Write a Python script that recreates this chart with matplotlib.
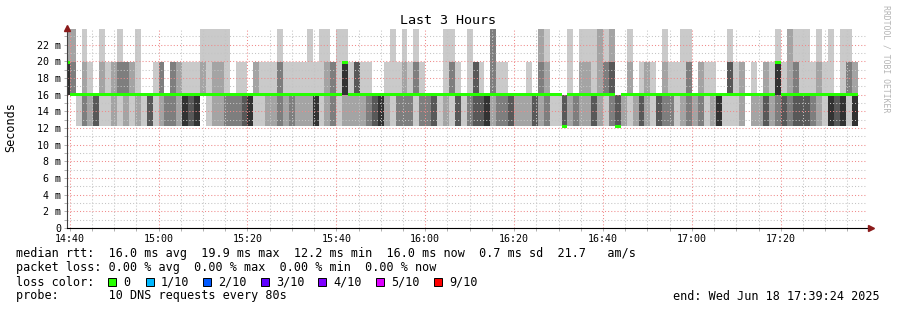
import numpy as np
import matplotlib
matplotlib.use("Agg")
import matplotlib.pyplot as plt
from matplotlib.patches import Rectangle

W, H = 897, 310
PINGS = 10
STEP = 80 / 60.0                      # minutes per rrd step
t_start = 14 * 60 + 39 + 24 / 60.0    # 14:39:24
t_end = 17 * 60 + 39 + 24 / 60.0      # 17:39:24
first_step = 14 * 60 + 40 - STEP      # partial step ending at 14:40

# the DNS answers cluster around these round trip times (ms)
levels = [12.2, 16.0, 19.9, 23.9]

# how many of the 10 pings of each step land near 12, 20 and 24 ms
# (the rest sit at 16 ms)
n12 = [0, 0, 1, 3, 2, 4, 1, 1, 2, 1, 2, 1, 2, 1, 4, 1,
       2, 3, 3, 2, 5, 4, 5, 0, 1, 2, 2, 3, 3, 3, 4,
       5, 1, 1, 2, 2, 3, 2, 3, 2, 2, 2, 5, 1, 2, 3,
       1, 2, 2, 2, 2, 3, 4, 5, 2, 1, 3, 3, 3, 1, 3,
       3, 4, 1, 2, 1, 4, 1, 3, 4, 4, 5, 2, 3, 3, 4,
       2, 2, 2, 4, 2, 3, 1, 1, 6, 2, 3, 2, 2, 4, 2,
       1, 3, 6, 2, 1, 2, 4, 2, 1, 4, 3, 3, 1, 2, 3,
       2, 3, 1, 2, 5, 1, 1, 1, 2, 0, 2, 2, 4, 2, 3,
       4, 3, 4, 4, 4, 3, 2, 1, 5, 4, 5, 1, 5]
n20 = [3, 1, 0, 1, 1, 0, 1, 1, 2, 2, 3, 2, 0, 0, 0, 1,
       3, 0, 3, 2, 1, 1, 1, 1, 0, 1, 1, 0, 0, 1, 1,
       0, 2, 1, 1, 1, 2, 1, 1, 1, 1, 0, 1, 0, 1, 3,
       0, 4, 1, 4, 1, 1, 0, 0, 1, 0, 1, 1, 1, 2, 1,
       0, 0, 0, 0, 2, 1, 0, 0, 4, 1, 0, 0, 1, 1, 0,
       0, 0, 1, 0, 1, 1, 0, 0, 0, 0, 0, 1, 1, 0, 0,
       2, 2, 0, 0, 1, 0, 1, 2, 1, 0, 1, 1, 1, 0, 2,
       0, 2, 1, 1, 0, 0, 3, 1, 2, 0, 1, 0, 2, 1, 4,
       1, 0, 2, 0, 0, 1, 1, 1, 0, 0, 0, 2, 2]
n24 = [2, 2, 0, 1, 0, 0, 1, 0, 0, 1, 0, 0, 1, 0, 0, 0,
       0, 0, 0, 0, 0, 0, 0, 1, 1, 1, 1, 1, 0, 0, 0,
       0, 0, 0, 0, 0, 1, 0, 0, 0, 0, 1, 0, 1, 1, 0,
       1, 1, 0, 0, 0, 0, 0, 0, 0, 1, 0, 1, 0, 1, 0,
       0, 0, 0, 1, 1, 0, 0, 1, 0, 0, 0, 3, 0, 0, 0,
       0, 0, 0, 0, 2, 1, 0, 0, 0, 1, 0, 1, 1, 1, 2,
       1, 2, 0, 0, 1, 0, 0, 0, 0, 0, 1, 0, 0, 1, 1,
       0, 0, 0, 0, 0, 0, 1, 0, 0, 0, 0, 0, 0, 0, 1,
       0, 2, 1, 1, 1, 0, 1, 0, 1, 0, 1, 1, 0]
n16 = [PINGS - a - b - c for a, b, c in zip(n12, n20, n24)]

y_ticks = list(range(0, 24, 2))
x_ticks = [880, 900, 920, 940, 960, 980, 1000, 1020, 1040]
x_labels = ["14:40", "15:00", "15:20", "15:40", "16:00", "16:20", "16:40", "17:00", "17:20"]

loss_labels = ["0", "1/10", "2/10", "3/10", "4/10", "5/10", "9/10"]
loss_colors = ["#26ff00", "#00b8ff", "#0059ff", "#5e00ff", "#7e00ff", "#dd00ff", "#ff0000"]

pings = np.array([sorted([levels[0]] * a + [levels[1]] * b + [levels[2]] * c + [levels[3]] * d)
                  for a, b, c, d in zip(n12, n16, n20, n24)])
median = pings[:, PINGS // 2]
edges = first_step + STEP * np.arange(len(n12) + 1)


def ext(v):
    return np.append(v, v[-1])


fig = plt.figure(figsize=(W / 100, H / 100), dpi=100)
fig.patch.set_facecolor("white")
ax = fig.add_axes([67 / W, 82 / H, 800 / W, 200 / H])
ax.set_xlim(t_start, t_end)
ax.set_ylim(0, 24)

# smoke: pair i covers ping i .. ping n-1-i, darker towards the middle
half = PINGS // 2
for i in range(half):
    g = int(190 / half * (half - (i + 1))) + 50
    ax.fill_between(edges, ext(pings[:, i]), ext(pings[:, PINGS - 1 - i]), step="post",
                    color="#%02x%02x%02x" % (g, g, g), lw=0, antialiased=False, zorder=2)

# grid
mono = "DejaVu Sans Mono"
ax.set_yticks(y_ticks)
ax.set_yticklabels(["%d m" % v if v else "0" for v in y_ticks], family=mono, fontsize=7.2)
ax.set_yticks(range(1, 24, 2), minor=True)
ax.set_xticks(x_ticks)
ax.set_xticklabels(x_labels, family=mono, fontsize=7.2)
ax.set_xticks([t for t in range(885, 1060, 5) if t % 20], minor=True)
ax.grid(which="minor", color="#c4c4c4", ls=(0, (1, 2)), lw=0.75, zorder=3)
ax.grid(which="major", color="#f08a8a", ls=(0, (1, 2)), lw=0.75, zorder=3)
ax.set_axisbelow(False)
ax.tick_params(which="both", length=2, width=0.7, color="#b0b0b0", pad=2)

# median, coloured by loss
sw = 0.2
ax.fill_between(edges, ext(median - sw), ext(median + sw), step="post",
                color=loss_colors[0], lw=0, antialiased=False, zorder=4)

for s in ["top", "right"]:
    ax.spines[s].set_visible(False)
ax.spines["left"].set_color("#404040")
ax.spines["bottom"].set_color("black")
ax.spines["left"].set_linewidth(0.8)
ax.spines["bottom"].set_linewidth(0.8)
ax.spines["left"].set_zorder(5)
ax.spines["bottom"].set_zorder(5)
ax.plot([0], [1.0], marker="^", ms=4.5, color="#8b1a1a", transform=ax.transAxes, clip_on=False, zorder=6)
ax.plot([1.005], [0], marker=">", ms=4.5, color="#8b1a1a", transform=ax.transAxes, clip_on=False, zorder=6)


def px(x, y):
    return x / W, 1 - y / H


fig.text(*px(448, 20), "Last 3 Hours", ha="center", va="center", family=mono, fontsize=9.6)
fig.text(*px(11, 127), "Seconds", rotation=90, ha="center", va="center", family=mono, fontsize=8.5)
fig.text(*px(886, 59), "RRDTOOL / TOBI OETIKER", rotation=-90, ha="center", va="center",
         family=mono, fontsize=5.9, color="#b4b4b4")

lines = [
    "median rtt:  16.0 ms avg  19.9 ms max  12.2 ms min  16.0 ms now  0.7 ms sd  21.7   am/s",
    "packet loss: 0.00 % avg  0.00 % max  0.00 % min  0.00 % now",
    "loss color:",
    "probe:       10 DNS requests every 80s",
]
for j, s in enumerate(lines):
    fig.text(*px(16, 254 + 14 * j), s, ha="left", va="center", family=mono, fontsize=8.5)

box_x = [108, 146, 203, 261, 318, 376, 434]
for bx, lab, c in zip(box_x, loss_labels, loss_colors):
    fig.add_artist(Rectangle(px(bx, 286), 8 / W, 8 / H, transform=fig.transFigure,
                             fc=c, ec="black", lw=0.7))
    fig.text(*px(bx + 15, 282), lab, ha="left", va="center", family=mono, fontsize=8.5)

fig.text(*px(880, 296), "end: Wed Jun 18 17:39:24 2025", ha="right", va="center",
         family=mono, fontsize=8.5)

fig.savefig("out.png", dpi=100, facecolor="white")
